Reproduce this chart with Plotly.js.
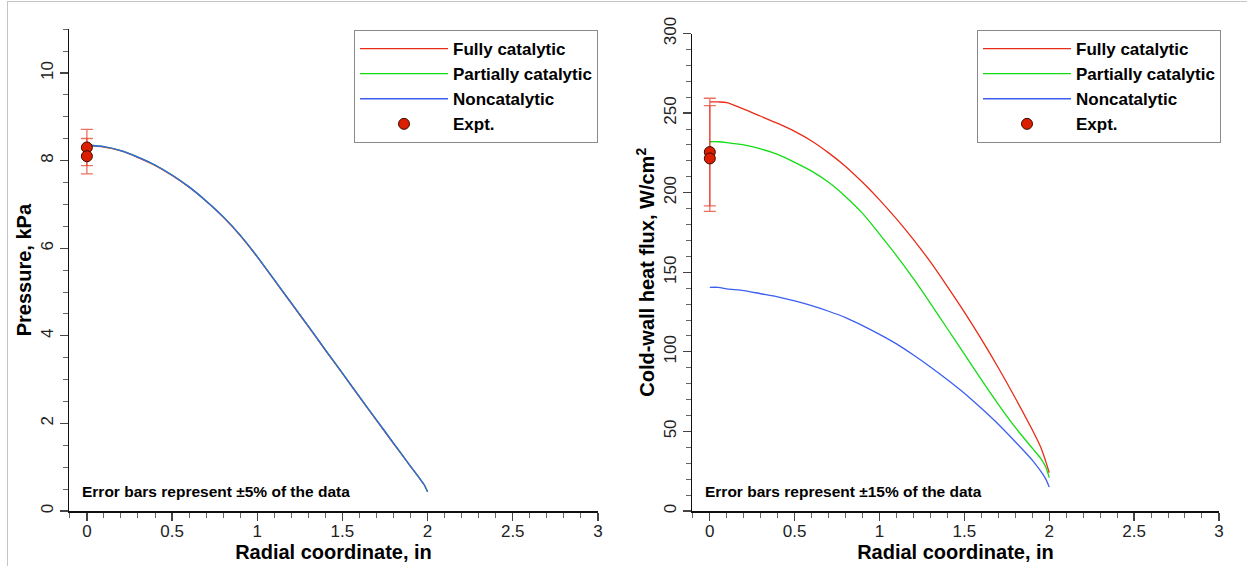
<!DOCTYPE html>
<html>
<head>
<meta charset="utf-8">
<script src="https://cdn.plot.ly/plotly-3.0.1.min.js"></script>
<style>
  html, body { margin: 0; padding: 0; background: #fff; }
  #chart { position: absolute; left: 0; top: 0; width: 1247px; height: 566px; }
  #frame { position: absolute; left: 7px; top: 1px; width: 1240px; height: 565px;
           border-left: 1px solid #c4c4c4; border-top: 1px solid #c4c4c4; pointer-events: none; }
</style>
</head>
<body>
<div id="chart"></div>
<div id="frame"></div>
<script>
// ---------- data ----------
var seriesNames = ["Fully catalytic", "Partially catalytic", "Noncatalytic", "Expt."];

// Left panel: surface pressure (kPa) vs radial coordinate (in)
var pressureR = [0, 0.1, 0.2, 0.3, 0.4, 0.5, 0.6, 0.7, 0.8, 0.9, 1.0, 1.1, 1.2, 1.3, 1.4, 1.5, 1.6, 1.7, 1.8, 1.9, 1.95, 1.98, 2.0];
var pressureFully   = [8.34, 8.31, 8.22, 8.07, 7.89, 7.66, 7.39, 7.07, 6.71, 6.29, 5.80, 5.27, 4.74, 4.21, 3.67, 3.14, 2.60, 2.07, 1.54, 1.02, 0.76, 0.60, 0.44];
var pressurePartial = [8.35, 8.32, 8.23, 8.08, 7.90, 7.67, 7.40, 7.08, 6.72, 6.30, 5.81, 5.28, 4.75, 4.22, 3.68, 3.15, 2.61, 2.08, 1.55, 1.02, 0.76, 0.60, 0.44];
var pressureNon     = [8.35, 8.32, 8.23, 8.08, 7.90, 7.67, 7.40, 7.08, 6.72, 6.30, 5.81, 5.28, 4.75, 4.22, 3.68, 3.15, 2.61, 2.08, 1.55, 1.02, 0.76, 0.60, 0.44];
var pressureExptR = [0, 0];
var pressureExpt  = [8.3, 8.1];
var pressureErrPct = 5;

// Right panel: cold-wall heat flux (W/cm^2) vs radial coordinate (in)
var fluxR = [0, 0.05, 0.1, 0.2, 0.3, 0.4, 0.5, 0.6, 0.7, 0.8, 0.9, 1.0, 1.1, 1.2, 1.3, 1.4, 1.5, 1.6, 1.7, 1.8, 1.9, 1.95, 1.98, 2.0];
var fluxFully   = [257, 257, 256.5, 252.5, 248, 243.5, 238.5, 232.5, 225, 216.5, 206.5, 195.5, 183.5, 170.5, 156.5, 141, 125, 108, 90, 71, 51, 40, 31, 24];
var fluxPartial = [232, 232, 231.5, 230, 227.5, 224, 219, 213.5, 206.5, 197.5, 187, 174, 160.5, 146, 130.5, 114.5, 98.5, 82.5, 67, 52.5, 39.5, 33, 27.5, 21];
var fluxNon     = [140.5, 140.5, 139.5, 138.5, 136.5, 134.5, 132, 129, 125.5, 121.5, 116.5, 111, 105, 98, 90.5, 82.5, 74, 64.5, 54.5, 43.5, 32, 25, 20, 15];
var fluxExptR = [0, 0];
var fluxExpt  = [225.5, 221.5];
var fluxErrPct = 15;

// ---------- styling ----------
var FONT = '"Liberation Sans", Arial, Helvetica, sans-serif';
var cRed = 'rgb(232,44,22)', cGreen = 'rgb(20,220,20)', cBlue = 'rgb(60,95,240)';
var lineW = 1.3;

function lineTrace(x, y, name, color, xa, ya, leg) {
  return { type: 'scatter', mode: 'lines', x: x, y: y, name: name,
           line: { color: color, width: lineW, shape: 'spline', smoothing: 0.8 },
           xaxis: xa, yaxis: ya, legend: leg, hoverinfo: 'skip' };
}
function exptTrace(x, y, pct, xa, ya, leg) {
  return { type: 'scatter', mode: 'markers', x: x, y: y, name: seriesNames[3], xaxis: xa, yaxis: ya, legend: leg,
           marker: { color: 'rgb(220,30,0)', size: 11, line: { color: '#3a0a00', width: 1 } },
           error_y: { type: 'percent', value: pct, visible: true, color: 'rgba(226,52,30,0.7)', thickness: 1.3, width: 6 } };
}

var data = [
  lineTrace(pressureR, pressureFully, seriesNames[0], cRed, 'x', 'y', 'legend'),
  lineTrace(pressureR, pressurePartial, seriesNames[1], cGreen, 'x', 'y', 'legend'),
  lineTrace(pressureR, pressureNon, seriesNames[2], cBlue, 'x', 'y', 'legend'),
  exptTrace(pressureExptR, pressureExpt, pressureErrPct, 'x', 'y', 'legend'),
  lineTrace(fluxR, fluxFully, seriesNames[0], cRed, 'x2', 'y2', 'legend2'),
  lineTrace(fluxR, fluxPartial, seriesNames[1], cGreen, 'x2', 'y2', 'legend2'),
  lineTrace(fluxR, fluxNon, seriesNames[2], cBlue, 'x2', 'y2', 'legend2'),
  exptTrace(fluxExptR, fluxExpt, fluxErrPct, 'x2', 'y2', 'legend2')
];

var W = 1247, H = 566;
function px2fx(p) { return p / W; }
function px2fy(p) { return 1 - p / H; }

function xAxis(domain, anchor) {
  return {
    domain: domain, anchor: anchor, range: [-0.105, 3.0005], dtick: 0.5, tick0: 0,
    showgrid: false, zeroline: false, showline: true, linecolor: '#111', linewidth: 1.5,
    ticks: 'outside', ticklen: 8, tickwidth: 1.3, tickcolor: '#444',
    minor: { dtick: 0.1, tick0: 0, ticks: 'outside', ticklen: 5, tickwidth: 1, tickcolor: '#666', showgrid: false },
    tickfont: { family: FONT, size: 17, color: '#222' },
    ticklabelstandoff: -4,
    title: { text: 'Radial coordinate, in', font: { family: FONT, size: 20, weight: 700, color: '#000' }, standoff: 4 },
    automargin: false, fixedrange: true
  };
}
function yAxis(domain, anchor, range, dtick, minorDtick, title) {
  return {
    domain: domain, anchor: anchor, range: range, dtick: dtick, tick0: 0,
    showgrid: false, zeroline: false, showline: true, linecolor: '#111', linewidth: 1.5,
    ticks: 'outside', ticklen: 8, tickwidth: 1.3, tickcolor: '#444',
    minor: { dtick: minorDtick, tick0: 0, ticks: 'outside', ticklen: 5, tickwidth: 1, tickcolor: '#666', showgrid: false },
    tickangle: -90,
    tickfont: { family: FONT, size: 17, color: '#222' },
    title: { text: title, font: { family: FONT, size: 20, weight: 700, color: '#000' }, standoff: 0 },
    automargin: false, fixedrange: true
  };
}
function legendBox(xRightPx) {
  return {
    x: px2fx(xRightPx), xanchor: 'right', y: px2fy(30), yanchor: 'top',
    bgcolor: '#fff', bordercolor: '#8a8a8a', borderwidth: 1,
    font: { family: FONT, size: 17, weight: 700, color: '#000' },
    itemwidth: 88, tracegroupgap: 0
  };
}

var layout = {
  width: W, height: H,
  margin: { l: 0, r: 0, t: 0, b: 0 },
  paper_bgcolor: '#fff', plot_bgcolor: '#fff',
  showlegend: true,
  font: { family: FONT, color: '#000' },
  xaxis: xAxis([px2fx(69), px2fx(598)], 'y'),
  yaxis: yAxis([px2fy(511), px2fy(29.2)], 'x', [0, 11], 2, 0.5, 'Pressure, kPa'),
  xaxis2: xAxis([px2fx(692), px2fx(1219)], 'y2'),
  yaxis2: yAxis([px2fy(511), px2fy(33.5)], 'x2', [0, 300], 50, 10, 'Cold-wall heat flux, W/cm<sup>2</sup>'),
  legend: legendBox(598),
  legend2: legendBox(1221),
  annotations: [
    { xref: 'x domain', yref: 'y domain', x: 0.02, y: 0.04, xanchor: 'left', yanchor: 'middle', showarrow: false,
      text: 'Error bars represent \u00b1' + pressureErrPct + '% of the data',
      font: { family: FONT, size: 15.5, weight: 700, color: '#000' } },
    { xref: 'x2 domain', yref: 'y2 domain', x: 0.02, y: 0.04, xanchor: 'left', yanchor: 'middle', showarrow: false,
      text: 'Error bars represent \u00b1' + fluxErrPct + '% of the data',
      font: { family: FONT, size: 15.5, weight: 700, color: '#000' } }
  ]
};

Plotly.newPlot('chart', data, layout, { displayModeBar: false, staticPlot: true });
</script>
</body>
</html>
